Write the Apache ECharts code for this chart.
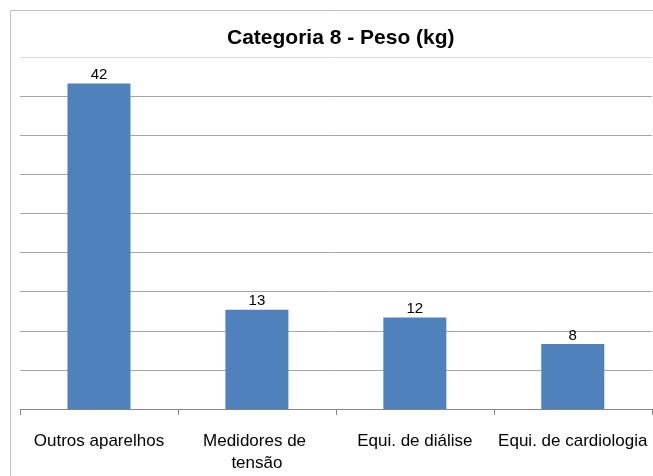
<!DOCTYPE html>
<html>
<head>
<meta charset="utf-8">
<script src="https://cdn.jsdelivr.net/npm/echarts@6/dist/echarts.min.js"></script>
<style>
html,body{margin:0;padding:0;background:#fff;}
#c{width:653px;height:476px;}
</style>
</head>
<body>
<div id="c"></div>
<script>
var categories = ['Outros aparelhos', 'Medidores de tensão', 'Equi. de diálise', 'Equi. de cardiologia'];
var pesoValues = [41.6, 12.7, 11.7, 8.3];
var titleText = 'Categoria 8 - Peso (kg)';

var FONT = "'Liberation Sans', Arial, sans-serif";
var chart = echarts.init(document.getElementById('c'), null, {renderer: 'canvas'});
chart.setOption({
  animation: false,
  backgroundColor: '#ffffff',
  graphic: [{
    type: 'rect', silent: true, z: -1,
    shape: {x: 10.5, y: 10.5, width: 700, height: 600},
    style: {fill: 'none', stroke: '#bfbfbf', lineWidth: 1}
  }],
  title: {
    text: titleText, left: 222, top: 23,
    textStyle: {fontFamily: FONT, fontWeight: 'bold', fontSize: 21, color: '#000'}
  },
  grid: {left: 20, right: -1, top: 57, bottom: 67, containLabel: false},
  xAxis: {
    type: 'category', data: categories, boundaryGap: true,
    axisLine: {lineStyle: {color: '#868686', width: 1}},
    axisTick: {show: true, length: 6, lineStyle: {color: '#868686'}},
    axisLabel: {
      interval: 0, margin: 21, color: '#000', fontFamily: FONT, fontSize: 17,
      width: 155, overflow: 'break', lineHeight: 22
    }
  },
  yAxis: {
    type: 'value', min: 0, max: 45, interval: 5,
    axisLine: {show: false}, axisTick: {show: false}, axisLabel: {show: false},
    splitLine: {lineStyle: {color: ['#a6a6a6','#a6a6a6','#a6a6a6','#a6a6a6','#a6a6a6','#a6a6a6','#a6a6a6','#a6a6a6','#a6a6a6','#d9d9d9'], width: 1}}
  },
  series: [{
    type: 'bar', data: pesoValues, barWidth: 63,
    itemStyle: {color: '#4f81bd'},
    label: {
      show: true, position: 'top', distance: 1,
      fontFamily: FONT, fontSize: 15, color: '#000',
      formatter: function (p) { return Math.round(p.value); }
    }
  }]
});
</script>
</body>
</html>
